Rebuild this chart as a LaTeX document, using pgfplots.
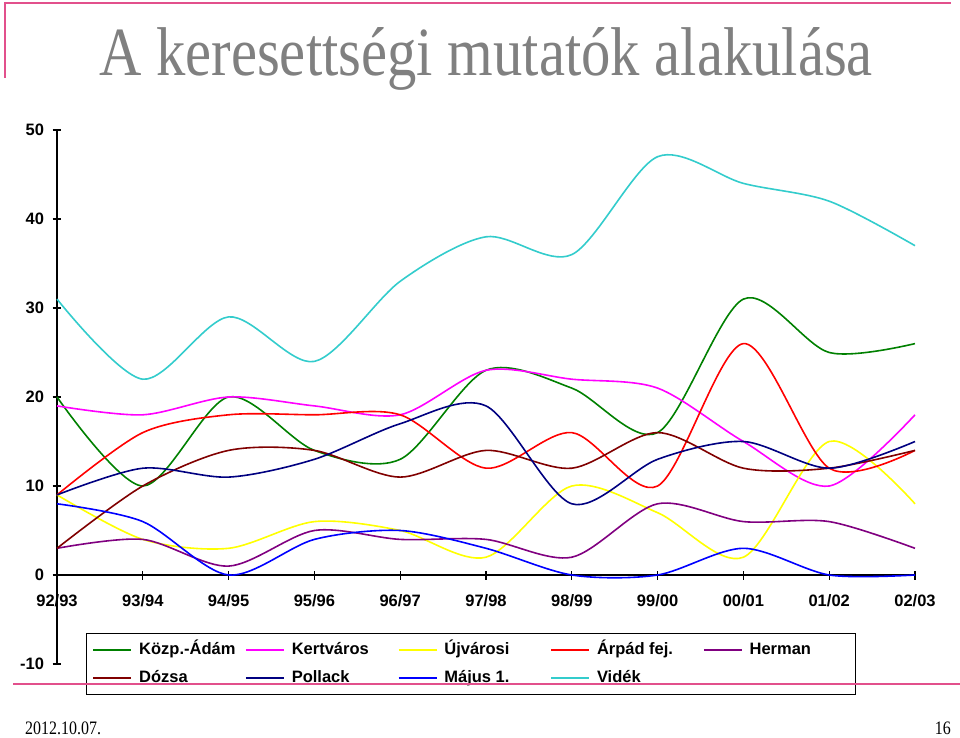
\documentclass[border=0pt]{standalone}
\usepackage{fontspec}
\setmainfont{Liberation Sans}
\newfontfamily\seriffont{Liberation Serif}
\usepackage{graphicx}
\usepackage{pgfplots}
\usepackage{pgfplotstable}
\pgfplotsset{compat=1.18}
\definecolor{kozp}{HTML}{008000}
\definecolor{kert}{HTML}{FF00FF}
\definecolor{ujv}{HTML}{FFFF00}
\definecolor{arpad}{HTML}{FF0000}
\definecolor{herman}{HTML}{800080}
\definecolor{dozsa}{HTML}{800000}
\definecolor{pollack}{HTML}{000080}
\definecolor{majus}{HTML}{0000FF}
\definecolor{videk}{HTML}{33CCCC}
\definecolor{deco}{RGB}{226,80,140}
\definecolor{titlegray}{RGB}{128,128,128}
\pgfplotstableread{
x kozp kert ujv arpad herman dozsa pollack majus videk
0 20 19 9 9 3 3 9 8 31
1 10 18 4 16 4 10 12 6 22
2 20 20 3 18 1 14 11 0 29
3 14 19 6 18 5 14 13 4 24
4 13 18 5 18 4 11 17 5 33
5 23 23 2 12 4 14 19 3 38
6 21 22 10 16 2 12 8 0 36
7 16 21 7 10 8 16 13 0 47
8 31 15 2 26 6 12 15 3 44
9 25 10 15 12 6 12 12 0 42
10 26 18 8 14 3 14 15 0 37
}\datatable
\begin{document}
\begin{tikzpicture}
\path[use as bounding box] (0pt,0pt) rectangle (960pt,737pt);
\begin{axis}[
  at={(57pt,73pt)}, anchor=south west,
  scale only axis, width=858pt, height=534pt,
  xmin=0, xmax=10, ymin=-10, ymax=50,
  axis x line=middle, axis y line=left,
  axis line style={-, black, line width=1.3pt},
  hide obscured x ticks=false, hide obscured y ticks=false,
  xtick={0,...,10},
  xticklabels={92/93,93/94,94/95,95/96,96/97,97/98,98/99,99/00,00/01,01/02,02/03},
  ytick={-10,0,10,20,30,40,50},
  tick align=center, major tick length=9pt,
  tick style={black, line width=1.2pt},
  ticklabel style={font=\fontsize{16.5}{18}\selectfont\bfseries},
  /pgf/number format/assume math mode=true,
  xticklabel style={anchor=north, yshift=-12pt},
  yticklabel style={anchor=east, xshift=-5pt},
  clip=false,
  legend columns=5,
  legend image code/.code={\draw[#1] (0pt,0pt) -- (38pt,0pt);},
  legend style={
    at={(0.0338,0.0581)}, anchor=north west,
    draw=black, line width=1.2pt,
    inner xsep=6pt, inner ysep=8.5pt,
    row sep=12pt,
    font=\fontsize{16.5}{18}\selectfont\bfseries,
    nodes={inner sep=0pt, text height=12pt, text depth=4pt},
    /tikz/every odd column/.append style={column sep=7pt},
    /tikz/every even column/.append style={column sep=6pt},
  },
  legend cell align=left,
  every axis plot/.append style={line width=1.6pt, smooth, no markers},
]
\addplot[kozp] table[x=x,y=kozp]{\datatable};
\addlegendentry{\makebox[100pt][l]{Közp.-Ádám}}
\addplot[kert] table[x=x,y=kert]{\datatable};
\addlegendentry{\makebox[100pt][l]{Kertváros}}
\addplot[ujv] table[x=x,y=ujv]{\datatable};
\addlegendentry{\makebox[100pt][l]{Újvárosi}}
\addplot[arpad] table[x=x,y=arpad]{\datatable};
\addlegendentry{\makebox[100pt][l]{Árpád fej.}}
\addplot[herman] table[x=x,y=herman]{\datatable};
\addlegendentry{\makebox[100pt][l]{Herman}}
\addplot[dozsa] table[x=x,y=dozsa]{\datatable};
\addlegendentry{\makebox[100pt][l]{Dózsa}}
\addplot[pollack] table[x=x,y=pollack]{\datatable};
\addlegendentry{\makebox[100pt][l]{Pollack}}
\addplot[majus] table[x=x,y=majus]{\datatable};
\addlegendentry{\makebox[100pt][l]{Május 1.}}
\addplot[videk] table[x=x,y=videk]{\datatable};
\addlegendentry{\makebox[100pt][l]{Vidék}}
\end{axis}
\draw[deco, line width=2pt] (5pt,734pt) -- (951pt,734pt);
\draw[deco, line width=2pt] (5pt,735pt) -- (5pt,659pt);
\draw[deco, line width=1.5pt] (13pt,53pt) -- (960pt,53pt);
\node[anchor=base, text=titlegray, inner sep=0pt] at (486pt,661pt)
  {\scalebox{0.85}[1]{\fontsize{69}{80}\selectfont\seriffont A keresettségi mutatók alakulása}};
\node[anchor=base west, inner sep=0pt] at (25pt,3pt)
  {\scalebox{0.84}[1]{\fontsize{19}{20}\selectfont\seriffont 2012.10.07.}};
\node[anchor=base east, inner sep=0pt] at (951pt,3pt)
  {\scalebox{0.84}[1]{\fontsize{19}{20}\selectfont\seriffont 16}};
\end{tikzpicture}
\end{document}
